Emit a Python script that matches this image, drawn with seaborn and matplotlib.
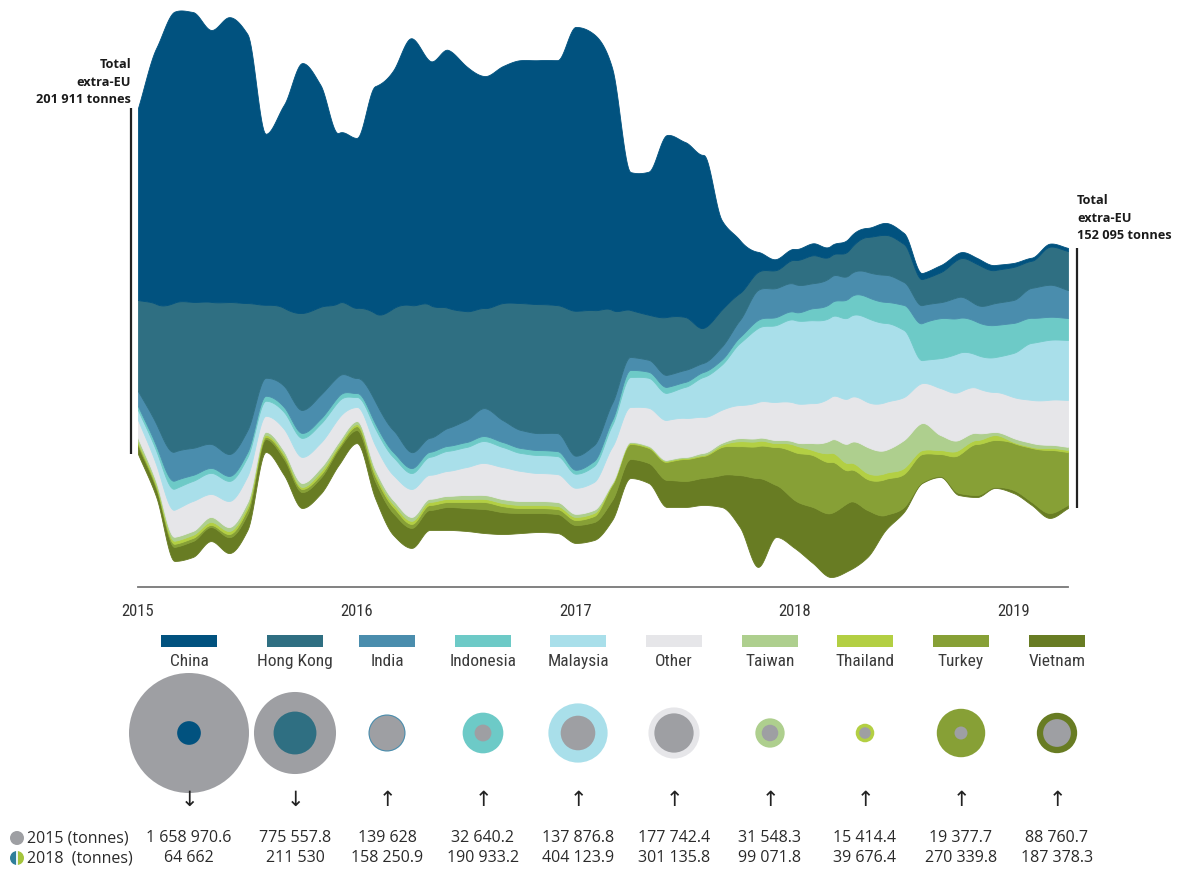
# Extra-EU exports streamgraph, monthly 2015-01 .. 2019-04, plus 2015 vs 2018 bubbles
import numpy as np
import pandas as pd
import matplotlib
matplotlib.use("Agg")
import matplotlib.pyplot as plt
from matplotlib import font_manager as fm
from matplotlib.patches import Rectangle, Circle, Wedge
import seaborn as sns

# ==================== DATA (thousand tonnes per month) ====================
months = pd.period_range("2015-01", "2019-04", freq="M")

china = [112.1, 149.4, 169.8, 169.2, 158.7, 166.3, 157.0, 99.8, 118.5, 145.9, 129.6, 99.2,
         99.2, 132.5, 138.9, 155.8, 142.4, 150.6, 143.0, 135.4, 138.3, 141.8, 142.4, 143.0,
         165.7, 161.1, 141.2, 80.5, 83.5, 106.2, 102.1, 101.0, 52.5, 30.9, 11.7, 6.4,
         6.4, 7.0, 5.8, 7.0, 5.3, 7.0, 6.4, 3.5, 4.1, 3.5, 3.5, 2.9,
         2.3, 1.8, 1.8, 1.8]
hong_kong = [53.1, 70.0, 87.0, 85.2, 82.9, 88.7, 74.1, 42.6, 45.5, 56.6, 51.4, 42.6,
             40.9, 51.4, 71.2, 85.8, 77.6, 70.0, 63.6, 58.4, 68.3, 74.1, 75.3, 74.7,
             84.6, 78.8, 54.3, 27.4, 26.3, 33.8, 30.9, 20.4, 21.6, 15.8, 10.5, 10.5,
             14.0, 16.3, 12.3, 14.6, 20.4, 23.3, 22.2, 15.2, 17.5, 22.2, 23.9, 19.3,
             19.3, 15.8, 22.2, 22.8]
india = [8.8, 12.8, 16.9, 15.8, 14.0, 12.8, 12.8, 10.5, 12.3, 13.4, 14.0, 11.7,
         8.8, 12.8, 12.8, 9.3, 8.2, 10.5, 12.8, 16.3, 12.8, 10.5, 9.9, 10.5,
         8.2, 9.3, 9.9, 7.6, 7.0, 7.0, 7.0, 5.3, 7.6, 9.9, 17.5, 16.9,
         16.3, 14.6, 15.2, 13.4, 14.6, 15.8, 13.4, 10.5, 9.3, 12.3, 9.9, 12.8,
         13.4, 17.5, 18.7, 16.3]
indonesia = [2.3, 2.9, 4.7, 3.5, 2.9, 2.9, 2.9, 2.9, 2.9, 2.9, 2.9, 2.9,
             2.3, 2.9, 2.9, 2.9, 2.9, 2.9, 2.9, 2.9, 2.9, 2.9, 2.9, 2.9,
             2.3, 2.9, 2.9, 4.1, 3.5, 3.5, 2.9, 2.9, 2.9, 3.5, 4.7, 4.7,
             4.7, 7.0, 8.2, 11.1, 12.3, 12.3, 14.6, 21.6, 23.3, 20.4, 19.3, 18.7,
             17.5, 14.6, 13.4, 12.8]
malaysia = [5.8, 8.2, 12.3, 11.7, 12.3, 11.7, 11.1, 8.8, 9.9, 11.1, 11.1, 9.9,
            5.8, 9.9, 10.5, 9.3, 10.5, 11.7, 11.7, 12.8, 11.7, 10.5, 10.5, 10.5,
            8.2, 9.3, 12.8, 17.5, 17.5, 15.8, 18.1, 23.3, 26.3, 36.2, 43.2, 44.9,
            48.4, 48.4, 46.7, 47.3, 49.0, 46.1, 39.1, 13.4, 17.5, 22.8, 19.3, 20.4,
            25.7, 33.3, 35.0, 35.0]
other = [10.5, 9.9, 15.8, 17.5, 13.4, 15.2, 15.2, 9.3, 12.8, 15.2, 14.6, 14.0,
         8.2, 14.0, 14.6, 16.3, 14.0, 14.6, 16.3, 18.7, 18.7, 17.5, 16.3, 16.3,
         15.2, 16.3, 21.0, 20.4, 22.2, 23.3, 22.8, 21.0, 19.3, 19.3, 21.0, 22.2,
         22.8, 23.3, 25.1, 26.3, 26.3, 28.0, 25.1, 23.3, 27.4, 28.0, 26.3, 23.3,
         23.9, 25.1, 26.3, 27.4]
taiwan = [2.3, 1.8, 2.3, 2.3, 2.9, 2.3, 2.3, 1.8, 1.8, 2.3, 2.3, 1.8,
          1.8, 2.3, 2.3, 2.3, 1.8, 1.8, 2.3, 2.3, 2.3, 2.3, 2.3, 2.3,
          1.8, 1.8, 0.6, 0.6, 0.6, 0.6, 0.6, 1.2, 1.2, 1.8, 1.8, 1.8,
          1.8, 4.1, 7.6, 11.7, 15.2, 13.4, 16.3, 15.8, 8.8, 5.8, 4.1, 1.8,
          2.3, 2.3, 1.8, 1.8]
thailand = [1.2, 1.2, 1.8, 1.8, 1.8, 1.8, 1.8, 1.2, 1.2, 1.2, 1.8, 1.2,
            1.2, 1.8, 1.8, 1.8, 1.8, 1.8, 1.8, 1.8, 1.8, 1.8, 1.8, 1.8,
            1.8, 1.8, 0.6, 0.6, 0.6, 0.6, 0.6, 0.6, 1.2, 2.9, 2.9, 2.3,
            4.1, 2.9, 5.3, 4.1, 3.5, 3.5, 3.5, 2.3, 2.3, 2.9, 2.3, 2.9,
            0.6, 0.6, 1.2, 1.2]
turkey = [1.2, 1.2, 1.8, 1.8, 1.2, 1.8, 2.9, 1.2, 1.8, 1.8, 1.8, 1.2,
          2.3, 2.9, 3.5, 2.3, 2.9, 2.9, 3.5, 4.1, 3.5, 2.9, 2.9, 2.9,
          2.9, 3.5, 8.8, 8.8, 8.8, 10.5, 12.8, 12.8, 16.3, 16.9, 18.7, 22.2,
          28.0, 30.3, 29.8, 18.7, 18.1, 21.0, 19.3, 16.3, 12.8, 22.2, 29.8, 27.4,
          27.4, 31.5, 36.8, 30.9]
vietnam = [4.7, 4.7, 8.2, 9.3, 8.2, 9.3, 9.3, 7.6, 9.3, 9.3, 9.3, 9.3,
           7.6, 9.9, 12.8, 11.7, 11.7, 13.4, 13.4, 14.0, 12.8, 11.7, 11.1, 11.1,
           10.5, 10.5, 11.7, 11.1, 11.7, 15.8, 15.2, 15.8, 18.7, 30.3, 51.9, 30.3,
           28.0, 32.7, 37.4, 39.7, 27.4, 8.8, 2.9, 0.6, 0.6, 1.2, 1.2, 0.6,
           1.8, 1.8, 2.9, 1.8]

# bottom edge of the stream (wiggle offset), thousand tonnes
stream_base = [77.6, 52.5, 15.2, 17.5, 26.8, 19.8, 33.3, 78.8, 65.4, 46.1, 54.3, 71.2,
               84.0, 51.9, 30.3, 22.8, 33.3, 33.3, 32.7, 31.5, 30.9, 31.5, 32.1, 31.5,
               25.7, 27.4, 39.1, 63.6, 60.7, 46.7, 46.7, 47.9, 46.7, 35.0, 11.7, 29.2,
               22.8, 14.0, 5.8, 9.9, 17.5, 33.3, 43.8, 60.7, 64.2, 53.7, 52.5, 57.8,
               54.9, 47.9, 40.3, 46.1]

countries = ["China", "Hong Kong", "India", "Indonesia", "Malaysia",
             "Other", "Taiwan", "Thailand", "Turkey", "Vietnam"]
series = [china, hong_kong, india, indonesia, malaysia,
          other, taiwan, thailand, turkey, vietnam]
colors = ["#01527f", "#2f6f82", "#4a8dad", "#6dcac7", "#a9dfea",
          "#e6e6e9", "#aecf8e", "#b3cf43", "#87a036", "#687c23"]

tonnes_2015 = [1658970.6, 775557.8, 139628, 32640.2, 137876.8,
               177742.4, 31548.3, 15414.4, 19377.7, 88760.7]
tonnes_2018 = [64662, 211530, 158250.9, 190933.2, 404123.9,
               301135.8, 99071.8, 39676.4, 270339.8, 187378.3]

total_first = "201 911"
total_last = "152 095"

# ==================== STYLE ====================
W, H = 1195, 871
sns.set_theme(style="white")
plt.rcParams["font.family"] = ["Open Sans", "DejaVu Sans"]
GREY = "#9e9fa3"
YMAX = 342.6   # thousand tonnes shown between axis line and top edge


def pick_narrow():
    # condensed face for legend names and years, if one is around
    for fam in ["Liberation Sans Narrow", "Roboto Condensed", "Open Sans Condensed",
                "Arial Narrow", "Noto Sans Condensed"]:
        try:
            fm.findfont(fm.FontProperties(family=fam), fallback_to_default=False)
            return dict(fontfamily=[fam, "DejaVu Sans"]), 12.5
        except Exception:
            pass
    path = fm.findfont(fm.FontProperties(family="DejaVu Sans", stretch="condensed"))
    if "Condensed" in path:
        return dict(fontfamily=["DejaVu Sans"], fontstretch="condensed"), 11.5
    return dict(fontfamily=["Roboto", "DejaVu Sans"]), 11


NARROW, NARROW_SIZE = pick_narrow()


def smooth(vals, xf):
    # monotone cubic (pchip) so stacked layers never go negative
    y = np.asarray(vals, float)
    n = len(y)
    d = np.diff(y)
    m = np.zeros(n)
    for k in range(1, n - 1):
        if d[k - 1] * d[k] > 0:
            m[k] = 2.0 / (1.0 / d[k - 1] + 1.0 / d[k])
    m[0], m[-1] = d[0], d[-1]
    i = np.clip(np.floor(xf).astype(int), 0, n - 2)
    t = xf - i
    h00 = 2 * t**3 - 3 * t**2 + 1
    h10 = t**3 - 2 * t**2 + t
    h01 = -2 * t**3 + 3 * t**2
    h11 = t**3 - t**2
    return h00 * y[i] + h10 * m[i] + h01 * y[i + 1] + h11 * m[i + 1]


def fmt(v):
    s = f"{v:,.1f}" if v % 1 else f"{v:,.0f}"
    return s.replace(",", " ")


fig = plt.figure(figsize=(W / 100, H / 100), dpi=100)

# full-figure pixel canvas for legend, bubbles and numbers
ax2 = fig.add_axes([0, 0, 1, 1])
ax2.set_xlim(0, W)
ax2.set_ylim(H, 0)
ax2.axis("off")

# ==================== STREAMGRAPH ====================
ax = fig.add_axes([138 / W, 1 - 587 / H, (1068 - 138) / W, 587 / H])
ax.patch.set_alpha(0)
n = len(months)
xf = np.linspace(0, n - 1, (n - 1) * 16 + 1)
lower = smooth(stream_base, xf)
for vals, col in zip(series[::-1], colors[::-1]):
    upper = lower + smooth(vals, xf)
    ax.fill_between(xf, lower, upper, color=col, lw=0.6, edgecolor=col)
    lower = upper

ax.set_xlim(0, n - 1)
ax.set_ylim(0, YMAX)
for s in ["left", "right", "top"]:
    ax.spines[s].set_visible(False)
ax.spines["bottom"].set_color("#777777")
ax.spines["bottom"].set_linewidth(1.3)
ax.set_yticks([])
ticks = list(range(0, n, 3))
ax.set_xticks(ticks)
ax.set_xticklabels([str(months[t].year) if months[t].month == 1 else "" for t in ticks],
                   fontsize=NARROW_SIZE - 0.5, color="#333333", **NARROW)
ax.tick_params(axis="x", direction="out", length=7, width=1.2, color="#777777", pad=5)

# total bars at both ends
tot = np.sum(series, axis=0)
ax.vlines(-0.38, stream_base[0], stream_base[0] + tot[0], color="#222222", lw=1.6, clip_on=False)
ax.vlines(n - 1 + 0.5, stream_base[-1], stream_base[-1] + tot[-1], color="#222222", lw=1.6, clip_on=False)
ax2.text(131, 106, f"Total\nextra-EU\n{total_first} tonnes", ha="right", va="bottom",
         fontsize=9.2, fontweight="bold", color="#1a1a1a", linespacing=1.45)
ax2.text(1077, 242, f"Total\nextra-EU\n{total_last} tonnes", ha="left", va="bottom",
         fontsize=9.2, fontweight="bold", color="#1a1a1a", linespacing=1.45)

# ==================== LEGEND + BUBBLES ====================
col_x = [189, 295, 387, 483, 578, 674, 770, 865, 961, 1057]
for cx, name, col in zip(col_x, countries, colors):
    ax2.add_patch(Rectangle((cx - 28, 635), 56, 12, color=col, lw=0))
    ax2.text(cx, 661, name, ha="center", va="center",
             fontsize=NARROW_SIZE, color="#3a3a3a", **NARROW)

rows = []
for cx, name, col, v15, v18 in zip(col_x, countries, colors, tonnes_2015, tonnes_2018):
    rows.append({"x": cx, "y": 733, "value": v15, "key": name + " 2015", "col": GREY})
    rows.append({"x": cx, "y": 733, "value": v18, "key": name + " 2018", "col": col})
bubbles = pd.DataFrame(rows).sort_values("value", ascending=False)
vmax = max(tonnes_2015 + tonnes_2018)
sns.scatterplot(data=bubbles, x="x", y="y", size="value", sizes=(0, 7465),
                size_norm=(0, vmax), hue="key",
                palette=dict(zip(bubbles["key"], bubbles["col"])),
                legend=False, linewidth=0, ax=ax2)
ax2.set_xlim(0, W)
ax2.set_ylim(H, 0)
ax2.axis("off")

for cx, v15, v18 in zip(col_x, tonnes_2015, tonnes_2018):
    ax2.text(cx, 800, "\u2193" if v18 < v15 else "\u2191", ha="center", va="center",
             fontsize=15, color="#222222", fontfamily=["DejaVu Sans"])
    ax2.text(cx, 838, fmt(v15), ha="center", va="center", fontsize=11.5, color="#2a2a2a")
    ax2.text(cx, 858, fmt(v18), ha="center", va="center", fontsize=11.5, color="#2a2a2a")

ax2.add_patch(Circle((17, 838), 7, color=GREY, lw=0))
ax2.add_patch(Wedge((17, 858), 7, 90, 270, color="#2f7f9a", lw=0))
ax2.add_patch(Wedge((17, 858), 7, 270, 90, color="#a4c43c", lw=0))
ax2.add_patch(Rectangle((16, 851), 2, 14, color="#e8f4f4", lw=0))
ax2.text(27, 838, "2015 (tonnes)", ha="left", va="center", fontsize=11.5, color="#2a2a2a")
ax2.text(27, 858, "2018  (tonnes)", ha="left", va="center", fontsize=11.5, color="#2a2a2a")

fig.savefig("out.png", dpi=100)
